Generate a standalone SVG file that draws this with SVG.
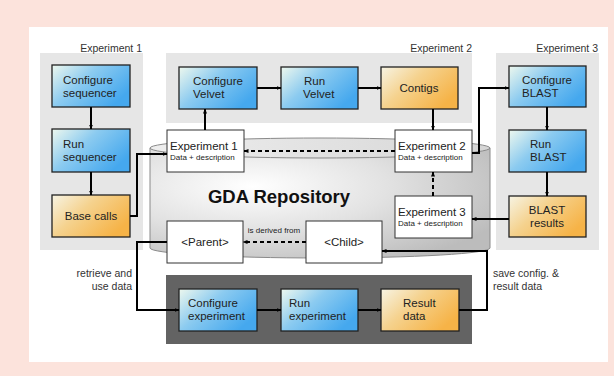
<svg xmlns="http://www.w3.org/2000/svg" width="614" height="376" viewBox="0 0 614 376">
<defs>
<linearGradient id="gBlue" x1="0" y1="0" x2="1" y2="0.6">
<stop offset="0" stop-color="#eef8ee"/>
<stop offset="0.45" stop-color="#8ccbf0"/>
<stop offset="1" stop-color="#45a8ee"/>
</linearGradient>
<linearGradient id="gOrange" x1="0" y1="0" x2="1" y2="0.6">
<stop offset="0" stop-color="#f7f4e4"/>
<stop offset="0.45" stop-color="#f5d28e"/>
<stop offset="1" stop-color="#f6b347"/>
</linearGradient>
<radialGradient id="gCyl" cx="0.3" cy="0.35" r="0.8">
<stop offset="0" stop-color="#ffffff"/>
<stop offset="0.5" stop-color="#e2e2e2"/>
<stop offset="1" stop-color="#bcbcbc"/>
</radialGradient>
<linearGradient id="gTop" x1="0" y1="0" x2="1" y2="0">
<stop offset="0" stop-color="#eeeeee"/>
<stop offset="1" stop-color="#d6d6d6"/>
</linearGradient>
<marker id="ah" viewBox="0 0 10 10" refX="9" refY="5" markerWidth="5" markerHeight="5" orient="auto-start-reverse" markerUnits="userSpaceOnUse">
<path d="M0,1 L10,5 L0,9 Z" fill="#000"/>
</marker>
</defs>
<style>
.lbl{font-family:"Liberation Sans",Arial,sans-serif;font-size:10.5px;fill:#333}
.t{font-family:"Liberation Sans",Arial,sans-serif;font-size:11.5px;fill:#222}
.s{font-family:"Liberation Sans",Arial,sans-serif;font-size:8px;fill:#222}
.blue{fill:url(#gBlue);stroke:#222;stroke-width:1.3}
.orange{fill:url(#gOrange);stroke:#222;stroke-width:1.3}
.wht{fill:#fff;stroke:#333;stroke-width:1}
.panel{fill:#e6e6e6}
.c{fill:none;stroke:#000;stroke-width:2;marker-end:url(#ah)}
.d{fill:none;stroke:#000;stroke-width:2;stroke-dasharray:4 3;marker-end:url(#ah)}
</style>
<rect x="0" y="0" width="614" height="376" fill="#fce3dc"/>
<rect x="29" y="27" width="579" height="335" fill="#fff"/>

<g id="panels">
<rect class="panel" x="40" y="53" width="103" height="197"/>
<rect class="panel" x="166" y="53" width="306" height="70"/>
<rect class="panel" x="496" y="53" width="103" height="197"/>
<rect x="166" y="275" width="306" height="69" fill="#636363"/>
<text class="lbl" x="142" y="52" text-anchor="end">Experiment 1</text>
<text class="lbl" x="472" y="52" text-anchor="end">Experiment 2</text>
<text class="lbl" x="598" y="52" text-anchor="end">Experiment 3</text>
</g>

<g id="repository">
<path d="M150,148 V248 A170,10 0 0 0 490,248 V148 Z" fill="url(#gCyl)" stroke="#8a8a8a" stroke-width="1"/>
<ellipse cx="320" cy="148" rx="170" ry="10" fill="url(#gTop)" stroke="#8a8a8a" stroke-width="1"/>
<text x="279" y="203" text-anchor="middle" font-family="Liberation Sans, Arial, sans-serif" font-weight="bold" font-size="18.5" fill="#111">GDA Repository</text>
</g>

<g id="configure-sequencer"><rect class="blue" x="52" y="65" width="78" height="42"/><text class="t" x="63" y="84">Configure</text><text class="t" x="63" y="97">sequencer</text></g>
<g id="run-sequencer"><rect class="blue" x="52" y="129" width="78" height="43"/><text class="t" x="63" y="148">Run</text><text class="t" x="63" y="161">sequencer</text></g>
<g id="base-calls"><rect class="orange" x="52" y="195" width="78" height="42"/><text class="t" x="91" y="220" text-anchor="middle">Base calls</text></g>

<g id="configure-velvet"><rect class="blue" x="179" y="67" width="78" height="42"/><text class="t" x="193" y="85">Configure</text><text class="t" x="193" y="98">Velvet</text></g>
<g id="run-velvet"><rect class="blue" x="281" y="67" width="77" height="42"/><text class="t" x="304" y="85">Run</text><text class="t" x="303" y="98">Velvet</text></g>
<g id="contigs"><rect class="orange" x="381" y="67" width="77" height="42"/><text class="t" x="419" y="92" text-anchor="middle">Contigs</text></g>

<g id="configure-blast"><rect class="blue" x="509" y="66" width="77" height="41"/><text class="t" x="522" y="84">Configure</text><text class="t" x="522" y="97">BLAST</text></g>
<g id="run-blast"><rect class="blue" x="509" y="130" width="77" height="42"/><text class="t" x="530" y="148">Run</text><text class="t" x="530" y="161">BLAST</text></g>
<g id="blast-results"><rect class="orange" x="509" y="196" width="77" height="41"/><text class="t" x="547" y="214" text-anchor="middle">BLAST</text><text class="t" x="547" y="227" text-anchor="middle">results</text></g>

<g id="experiment-1"><rect class="wht" x="167" y="130" width="77" height="42"/><text class="t" x="170" y="150">Experiment 1</text><text class="s" x="170" y="160">Data + description</text></g>
<g id="experiment-2"><rect class="wht" x="395" y="130" width="77" height="42"/><text class="t" x="398" y="150">Experiment 2</text><text class="s" x="398" y="160">Data + description</text></g>
<g id="experiment-3"><rect class="wht" x="395" y="196" width="77" height="42"/><text class="t" x="398" y="216">Experiment 3</text><text class="s" x="398" y="226">Data + description</text></g>

<g id="parent"><rect class="wht" x="167" y="221" width="76" height="42"/><text class="t" x="205" y="246" text-anchor="middle">&lt;Parent&gt;</text></g>
<g id="child"><rect class="wht" x="306" y="221" width="76" height="42"/><text class="t" x="344" y="246" text-anchor="middle">&lt;Child&gt;</text></g>

<g id="configure-experiment"><rect class="blue" x="179" y="289" width="78" height="42"/><text class="t" x="188" y="307">Configure</text><text class="t" x="188" y="320">experiment</text></g>
<g id="run-experiment"><rect class="blue" x="281" y="289" width="77" height="42"/><text class="t" x="289" y="307">Run</text><text class="t" x="289" y="320">experiment</text></g>
<g id="result-data"><rect class="orange" x="381" y="289" width="78" height="42"/><text class="t" x="403" y="307">Result</text><text class="t" x="403" y="320">data</text></g>

<g id="connectors">
<path class="c" d="M91,107 V129"/>
<path class="c" d="M91,172 V195"/>
<path class="c" d="M130,216 H137 V154 H167"/>
<path class="c" d="M205,130 V109"/>
<path class="c" d="M257,88 H281"/>
<path class="c" d="M358,88 H381"/>
<path class="c" d="M433,109 V130"/>
<path class="d" d="M395,151 H244"/>
<path class="c" d="M472,153 H479 V88 H509"/>
<path class="c" d="M547,107 V130"/>
<path class="c" d="M547,172 V196"/>
<path class="c" d="M509,219 H472"/>
<path class="d" d="M433,196 V172"/>
<path class="d" d="M306,242 H243"/>
<path class="c" d="M167,242 H137 V310 H179"/>
<path class="c" d="M257,310 H281"/>
<path class="c" d="M358,310 H381"/>
<path class="c" d="M459,310 H487 V251 H382"/>
<text class="s" x="274" y="233" text-anchor="middle">is derived from</text>
<text class="lbl" x="132" y="277" text-anchor="end">retrieve and</text>
<text class="lbl" x="132" y="290" text-anchor="end">use data</text>
<text class="lbl" x="493" y="277">save config. &amp;</text>
<text class="lbl" x="493" y="290">result data</text>
</g>
</svg>
